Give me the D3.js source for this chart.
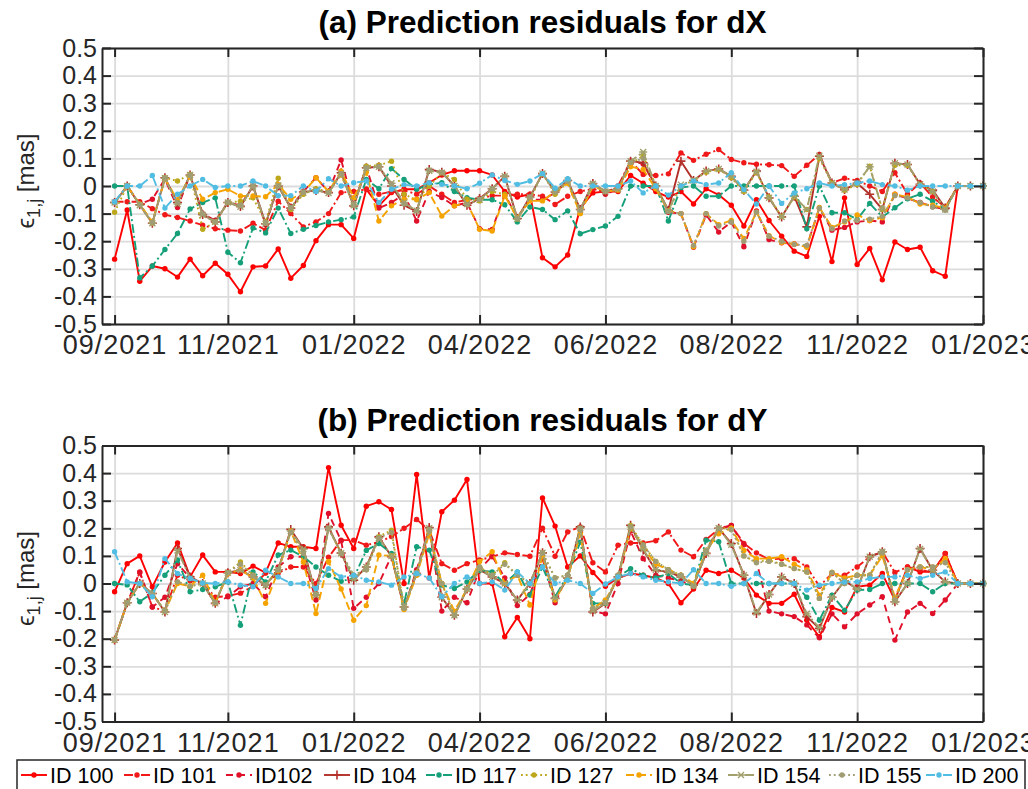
<!DOCTYPE html>
<html>
<head>
<meta charset="utf-8">
<script src="https://cdn.jsdelivr.net/npm/d3@7"></script>
<style>
  html, body { margin: 0; padding: 0; background: #fff; }
  svg { display: block; font-family: "Liberation Sans", Arial, Helvetica, sans-serif; }
</style>
</head>
<body>
<svg id="chart" width="1028" height="789"></svg>
<script>
// Weekly sample index (1..70) and date labels shown on the x axis
const sampleIndex = d3.range(1, 71);
const xTickIndex = [1, 10, 20, 30, 40, 50, 60, 70];
const xTickLabels = ["09/2021", "11/2021", "01/2022", "04/2022", "06/2022", "08/2022", "11/2022", "01/2023"];
const yTicks = [-0.5, -0.4, -0.3, -0.2, -0.1, 0, 0.1, 0.2, 0.3, 0.4, 0.5];

const seriesIds = ["ID 100", "ID 101", "ID102", "ID 104", "ID 117", "ID 127", "ID 134", "ID 154", "ID 155", "ID 200"];

// Residuals for dX [mas]
const dX_100 = [-0.265,-0.087,-0.345,-0.29,-0.30,-0.33,-0.265,-0.325,-0.28,-0.32,-0.383,-0.293,-0.29,-0.228,-0.334,-0.288,-0.198,-0.14,-0.14,-0.19,-0.012,-0.072,-0.024,-0.012,-0.012,0.012,0.04,0.055,0.055,0.055,0.04,-0.02,-0.04,-0.03,-0.26,-0.293,-0.25,-0.08,-0.025,-0.02,-0.02,0.038,0.01,-0.02,-0.04,-0.02,-0.065,-0.01,-0.032,-0.07,-0.145,-0.05,-0.125,-0.182,-0.236,-0.255,-0.11,-0.274,-0.043,-0.284,-0.226,-0.34,-0.203,-0.23,-0.222,-0.307,-0.327,0,0,0];
const dX_101 = [-0.057,-0.057,-0.057,-0.082,-0.104,-0.114,-0.127,-0.142,-0.155,-0.16,-0.163,-0.135,-0.16,-0.055,-0.1,-0.148,-0.13,-0.1,-0.024,-0.02,-0.012,-0.03,-0.02,-0.015,-0.03,0.0,-0.03,-0.06,-0.05,-0.045,-0.035,-0.035,-0.03,-0.03,-0.037,-0.067,-0.037,-0.02,-0.01,-0.025,0.0,0.09,0.042,0.038,0.044,0.12,0.093,0.115,0.132,0.096,0.084,0.079,0.077,0.074,0.035,0.075,0.114,0.011,0.028,0.02,0.0,-0.02,0.048,-0.03,0.011,-0.04,-0.077,0,0,0];
const dX_102 = [-0.06,0,-0.065,-0.048,0.025,-0.078,0.04,-0.1,-0.125,-0.06,-0.07,0.0,-0.14,0.0,-0.075,-0.02,0.03,-0.02,0.094,-0.07,0.07,-0.08,-0.06,-0.03,-0.127,-0.02,-0.042,-0.072,-0.06,-0.155,-0.157,-0.03,-0.115,-0.05,-0.05,-0.025,0.018,-0.09,0.005,-0.03,-0.01,0.09,0.08,0.0,-0.095,-0.1,-0.222,-0.105,-0.167,-0.13,-0.22,-0.09,-0.194,-0.206,-0.21,-0.218,-0.08,-0.16,-0.15,-0.13,-0.125,-0.13,-0.03,-0.045,-0.06,-0.075,-0.085,0,0,0];
const dX_104 = [-0.06,0,-0.068,-0.135,0.03,-0.06,0.04,-0.103,-0.13,-0.06,-0.074,0.0,-0.137,0.0,-0.08,-0.022,-0.016,-0.024,0.048,-0.072,0.066,0.07,0.0,-0.07,-0.092,0.06,0.05,0.0,-0.07,-0.045,-0.01,0.035,-0.118,-0.04,0.045,-0.022,0.02,-0.085,0.009,-0.02,-0.01,0.09,0.084,0.0,-0.088,0.09,0.02,0.054,0.062,0.035,-0.015,0.054,-0.043,-0.112,-0.037,-0.148,0.108,0.011,-0.013,0.01,-0.03,-0.085,0.082,0.078,0.006,-0.015,-0.08,0,0,0];
const dX_117 = [0,0,-0.333,-0.29,-0.23,-0.172,-0.083,-0.06,-0.043,-0.24,-0.278,-0.152,-0.17,-0.08,-0.172,-0.157,-0.143,-0.13,-0.122,-0.112,0.024,-0.01,0.063,0.024,-0.012,0.005,0.012,-0.02,-0.042,-0.05,-0.05,-0.068,-0.13,-0.076,-0.085,-0.122,-0.09,-0.173,-0.158,-0.145,-0.11,0,0,0,-0.127,-0.006,0,-0.037,-0.037,0,0,0,0,0,0,-0.155,0,-0.097,-0.097,-0.121,-0.063,-0.112,-0.079,-0.046,-0.03,-0.055,-0.085,0,0,0];
const dX_127 = [-0.095,0,-0.066,-0.135,0.03,0.018,0.042,-0.157,-0.13,-0.06,-0.055,-0.043,-0.13,0.028,-0.085,-0.03,-0.01,-0.02,0.04,-0.07,0.072,0.075,0.09,-0.03,-0.05,0.0,0.048,0.024,-0.048,-0.054,-0.02,-0.03,-0.12,-0.05,0.045,-0.03,0.015,-0.1,0.005,-0.02,-0.01,0.08,0.11,0.0,-0.09,0.0,0.02,0.05,0.06,0.03,-0.02,0.05,-0.04,-0.11,-0.04,-0.085,0.1,0.01,-0.015,0.005,0.072,-0.085,0.075,0.075,0.005,-0.02,-0.085,0,0,0];
const dX_134 = [-0.06,0,-0.066,-0.13,0.025,-0.05,0.035,-0.048,-0.024,-0.012,-0.036,-0.036,-0.039,0.006,-0.048,-0.024,0.03,-0.02,0.054,-0.042,0.05,-0.127,-0.072,-0.048,-0.048,-0.024,-0.109,-0.072,-0.06,-0.157,-0.163,-0.036,-0.115,-0.054,-0.054,-0.02,0.01,-0.1,0.0,-0.02,-0.015,0.07,0.06,-0.01,-0.09,-0.1,-0.22,-0.1,-0.14,-0.125,-0.19,-0.095,-0.18,-0.205,-0.21,-0.222,-0.078,-0.15,-0.13,-0.105,-0.125,-0.115,-0.03,-0.04,-0.065,-0.07,-0.08,0,0,0];
const dX_154 = [-0.06,0,-0.07,-0.135,0.028,-0.065,0.04,-0.105,-0.13,-0.06,-0.075,-0.002,-0.137,0.002,-0.08,-0.024,-0.015,-0.025,0.045,-0.07,0.065,0.07,0.01,-0.06,-0.09,0.055,0.048,0.0,-0.065,-0.05,-0.01,0.035,-0.12,-0.042,0.045,-0.02,0.02,-0.085,0.008,-0.02,-0.012,0.09,0.123,0.0,-0.088,0.005,0.02,0.054,0.062,0.035,-0.015,0.052,-0.043,-0.112,-0.037,-0.085,0.11,0.011,-0.013,0.01,0.07,-0.085,0.082,0.078,0.006,-0.02,-0.085,0,0,0];
const dX_155 = [-0.06,0,-0.068,-0.133,0.03,-0.06,0.04,-0.1,-0.13,-0.058,-0.07,0.0,-0.135,0.0,-0.078,-0.022,-0.016,-0.024,0.045,-0.07,0.065,0.07,0.005,-0.065,-0.09,0.058,0.05,0.0,-0.068,-0.048,-0.01,0.035,-0.118,-0.04,0.045,-0.022,0.018,-0.088,0.008,-0.02,-0.01,0.085,0.1,0.0,-0.092,-0.1,-0.215,-0.1,-0.145,-0.13,-0.2,-0.095,-0.182,-0.2,-0.212,-0.215,-0.08,-0.155,-0.127,-0.125,-0.12,-0.11,-0.035,-0.043,-0.06,-0.076,-0.088,0,0,0];
const dX_200 = [-0.057,0,0,0.038,-0.08,-0.03,0.0,0.024,-0.005,0,0,0.018,0,-0.035,-0.035,0,-0.02,0.026,0.0,0.012,0.018,-0.06,-0.012,0.005,0.0,0.012,0.006,0.0,-0.01,0.01,0.04,0.02,0.006,0.018,0.045,-0.008,0.026,0.0,0.0,0.0,0.0,0.018,-0.025,0.0,-0.033,0.0,0.018,0.005,0.011,0.048,-0.013,-0.065,0.0,-0.063,-0.025,-0.01,0.011,0.0,0.005,0.011,0.018,0.005,0.0,-0.015,0,0,0,0,0,0];

// Residuals for dY [mas]
const dY_100 = [-0.03,0.072,0.1,-0.012,0.078,0.147,0.024,0.103,0.042,0.042,0.036,0.063,0.039,0.147,0.133,0.133,0.127,0.42,0.211,0.127,0.28,0.296,0.268,0.0,0.395,0.02,0.26,0.302,0.377,0.0,0.0,-0.193,-0.123,-0.2,0.31,0.208,0.06,0.1,0.04,-0.01,0.02,0.036,0.03,0.02,0.0,-0.07,-0.02,0.048,0.036,0.048,0.02,-0.042,-0.072,-0.072,-0.039,-0.133,-0.193,-0.087,-0.103,-0.012,-0.006,0.036,-0.06,0.06,0.042,0.042,0.109,0,0,0];
const dY_101 = [-0.205,-0.07,0.04,-0.085,-0.1,0.03,0.01,0.0,-0.05,-0.045,-0.035,-0.01,0.038,0.038,0.06,0.06,0.0,0.095,0.157,0.157,0.139,0.15,0.17,0.2,0.232,0.193,0.072,0.048,0.072,0.085,0.097,0.111,0.105,0.099,0.2,0.099,0.187,0.205,0.075,0.042,0.139,0.147,0.147,0.155,0.187,0.121,0.097,0.16,0.196,0.21,0.145,0.111,0.087,0.09,0.09,0.06,-0.01,0.036,0.03,0.06,0.097,0.115,0.04,0.06,0.05,0.04,0.109,0,0,0];
const dY_102 = [-0.205,-0.07,0.042,-0.085,-0.05,0.072,0.02,0.0,-0.072,-0.048,-0.012,0.0,-0.048,0.06,0.097,0.097,-0.06,0.254,0.155,-0.09,-0.05,0.0,0.1,-0.09,0.05,0.2,-0.1,-0.05,-0.07,0.05,0.1,0.02,-0.08,-0.04,0.09,-0.07,0.03,0.2,-0.1,-0.11,0.0,0.19,0.09,0.03,0.02,0.01,-0.01,0.12,0.2,0.21,0.14,0.08,-0.1,-0.11,-0.12,-0.15,-0.197,-0.11,-0.157,-0.11,-0.078,-0.048,-0.205,-0.103,-0.072,-0.109,-0.06,0,0,0];
const dY_104 = [-0.205,-0.07,0.0,-0.036,-0.103,0.127,0.024,0.0,-0.072,0.039,0.048,0.024,-0.006,0.05,0.196,0.127,-0.042,0.205,0.11,0.012,0.06,0.169,0.097,-0.085,0.036,0.203,-0.05,-0.115,-0.02,0.05,0.024,0.0,-0.06,0.0,0.111,-0.054,0.02,0.205,-0.103,-0.072,0.024,0.211,0.121,0.048,0.042,0.024,-0.006,0.109,0.2,0.145,0.03,-0.109,-0.04,0.024,0.0,-0.12,-0.163,-0.05,0.01,-0.02,0.097,0.115,-0.066,0.0,0.127,0.048,0.006,0,0,0];
const dY_117 = [0,-0.005,-0.066,-0.034,0.03,0.085,-0.03,-0.022,-0.012,0.006,-0.151,0.042,0.006,0.103,0.121,0.097,0.06,0.03,0.008,0.02,0.12,0.145,0.109,-0.072,0.133,0.121,-0.006,-0.018,0.006,0.048,0.042,0.0,0.042,-0.042,0.06,-0.048,0.03,0.15,-0.072,-0.072,0.024,0.054,0.03,0.02,0.036,0.0,-0.006,0.157,0.151,0,0,0,0,0,0,-0.05,-0.133,-0.042,-0.097,-0.024,-0.022,0.0,0.0,0.0,0.0,-0.03,0.0,0,0,0];
const dY_127 = [-0.205,-0.07,0.0,-0.036,-0.1,0.006,-0.01,0.0,-0.07,0.039,0.078,0.03,-0.006,0.05,0.187,0.11,-0.04,0.2,0.11,0.03,0.05,0.17,0.193,-0.09,0.04,0.19,0.0,-0.115,-0.02,0.06,0.03,0.075,0.03,0.0,0.111,0.02,0.03,0.2,-0.09,-0.07,0.03,0.21,0.14,0.08,0.05,0.03,-0.01,0.12,0.2,0.2,0.1,0.078,0.085,0.07,0.054,0.042,-0.054,0.04,0.0,0.03,0.03,0.115,-0.06,0.05,0.06,0.06,0.078,0,0,0];
const dY_134 = [-0.205,-0.07,0.0,-0.036,-0.1,0.0,-0.01,0.03,-0.07,0.035,0.05,0.02,-0.072,0.045,0.19,0.078,-0.109,0.08,-0.02,-0.133,-0.08,0.103,0.1,-0.094,0.03,0.18,0.0,-0.1,-0.02,0.08,0.115,0.0,0.03,-0.078,0.1,-0.06,0.02,0.18,-0.09,-0.06,0.02,0.2,0.13,0.07,0.05,0.03,0.0,0.12,0.18,0.2,0.12,0.09,0.09,0.097,0.07,0.05,-0.042,0.04,0.02,0.03,0.03,0.1,-0.05,0.05,0.06,0.05,0.091,0,0,0];
const dY_154 = [-0.205,-0.07,0.0,-0.036,-0.103,0.12,0.02,0.0,-0.072,0.039,0.048,0.024,-0.006,0.05,0.19,0.125,-0.042,0.2,0.11,0.015,0.06,0.165,0.1,-0.085,0.036,0.2,-0.05,-0.115,-0.02,0.05,0.024,0.0,-0.06,0.0,0.111,-0.054,0.02,0.2,-0.1,-0.07,0.024,0.205,0.125,0.05,0.042,0.024,-0.006,0.109,0.2,0.14,0.03,-0.105,-0.04,0.024,0.0,-0.11,-0.16,-0.05,0.01,-0.02,0.097,0.115,-0.066,0.0,0.125,0.048,0.006,0,0,0];
const dY_155 = [-0.205,-0.07,0.0,-0.036,-0.1,0.006,-0.01,0.0,-0.07,0.039,0.07,0.03,-0.006,0.05,0.185,0.11,-0.04,0.2,0.11,0.03,0.05,0.165,0.185,-0.09,0.04,0.19,0.0,-0.115,-0.02,0.06,0.03,0.07,0.03,0.0,0.111,0.02,0.03,0.2,-0.09,-0.07,0.03,0.205,0.14,0.08,0.05,0.03,-0.01,0.12,0.2,0.195,0.1,0.075,0.08,0.07,0.054,0.042,-0.054,0.04,0.0,0.03,0.03,0.115,-0.06,0.05,0.06,0.06,0.075,0,0,0];
const dY_200 = [0.115,0.006,0.0,-0.048,0.09,0.036,0.018,0.002,0.0,0.006,-0.006,-0.012,0.048,0.024,0.0,0.0,-0.018,0.054,0.024,0.03,0.012,0.006,-0.006,0.024,0.036,0.02,-0.048,0.0,0.024,0.0,0.006,-0.024,0.042,0.0,0.06,0.0,0.012,0.0,-0.036,-0.002,0.024,0.036,0.024,0.012,0.006,0.0,0.05,0.0,0.0,-0.01,0.0,0.036,0.0,0.0,0.0,-0.024,-0.006,0.0,0.005,0.006,0.018,0.024,0.024,0.03,0.018,0.03,0.042,0,0,0];

const dXSeries = [dX_100, dX_101, dX_102, dX_104, dX_117, dX_127, dX_134, dX_154, dX_155, dX_200];
const dYSeries = [dY_100, dY_101, dY_102, dY_104, dY_117, dY_127, dY_134, dY_154, dY_155, dY_200];

// Line styles per station
const colors = ["#ff0000", "#f01818", "#e0102a", "#b3302a", "#16a07a", "#bda81c", "#f5a300", "#a2a06c", "#a09c74", "#52bde2"];
const dashes = [null, "9,3,2,3", "7,5", null, "9,3,2,3", "1.8,3", "8,4", "9,3,2,3", "1.8,3", "9,3,2,3"];
const markers = ["dot", "dot", "dot", "plus", "dot", "dot", "dot", "star", "dot", "dot"];

// Legend text anchors
const legendTextX = [50, 153, 255, 353, 455, 550, 655, 757, 858, 955];

const svg = d3.select("#chart");
const x = d3.scaleLinear().domain([0, 70]).range([102, 983]);

const panels = [
  { title: "(a) Prediction residuals for dX", data: dXSeries, top: 48, bottom: 324, titleY: 33 },
  { title: "(b) Prediction residuals for dY", data: dYSeries, top: 445.5, bottom: 721.5, titleY: 431 }
];

const fmtY = v => Math.abs(v) < 1e-9 ? "0" : v.toFixed(1);

function drawMarker(g, kind, cx, cy, color) {
  if (kind === "dot") {
    g.append("circle").attr("cx", cx).attr("cy", cy).attr("r", 2.7).attr("fill", color);
  } else if (kind === "plus") {
    g.append("path").attr("d", `M${cx-4.5},${cy}H${cx+4.5}M${cx},${cy-4.5}V${cy+4.5}`)
      .attr("stroke", color).attr("stroke-width", 1.6).attr("fill", "none");
  } else if (kind === "star") {
    g.append("path").attr("d", `M${cx-4},${cy}H${cx+4}M${cx-3},${cy-3}L${cx+3},${cy+3}M${cx-3},${cy+3}L${cx+3},${cy-3}`)
      .attr("stroke", color).attr("stroke-width", 1.4).attr("fill", "none");
  }
}

panels.forEach(p => {
  const y = d3.scaleLinear().domain([-0.5, 0.5]).range([p.bottom, p.top]);
  const g = svg.append("g");
  const x0 = x.range()[0], x1 = x.range()[1];

  // grid
  g.append("g").attr("transform", `translate(${x0},0)`)
    .call(d3.axisLeft(y).tickValues(yTicks).tickSize(-(x1 - x0)).tickFormat(""))
    .call(a => a.select(".domain").remove())
    .call(a => a.selectAll("line").attr("stroke", "#dcdcdc").attr("stroke-width", 1.8));
  g.append("g").attr("transform", `translate(0,${p.bottom})`)
    .call(d3.axisBottom(x).tickValues(xTickIndex).tickSize(-(p.bottom - p.top)).tickFormat(""))
    .call(a => a.select(".domain").remove())
    .call(a => a.selectAll("line").attr("stroke", "#dcdcdc").attr("stroke-width", 1.8));

  // series
  const clip = "clip" + Math.round(p.top);
  svg.append("clipPath").attr("id", clip).append("rect")
    .attr("x", x0).attr("y", p.top - 4).attr("width", x1 - x0 + 4).attr("height", p.bottom - p.top + 8);
  const plot = g.append("g").attr("clip-path", `url(#${clip})`);
  p.data.forEach((vals, k) => {
    const pts = sampleIndex.map((t, i) => [t, vals[i]]);
    const line = d3.line().x(d => x(d[0])).y(d => y(d[1]));
    const sg = plot.append("g");
    sg.append("path").attr("d", line(pts)).attr("fill", "none")
      .attr("stroke", colors[k]).attr("stroke-width", 1.9)
      .attr("stroke-linejoin", "round")
      .attr("stroke-dasharray", dashes[k]);
    pts.forEach(d => drawMarker(sg, markers[k], x(d[0]), y(d[1]), colors[k]));
  });

  // axes (ticks inward on all four sides)
  const axisColor = "#262626";
  const styleAxis = size => a => {
    a.selectAll("path.domain").attr("stroke", axisColor).attr("stroke-width", 2);
    a.selectAll("line").attr("stroke", axisColor).attr("stroke-width", 2);
    a.selectAll("text").attr("fill", "#262626").attr("font-size", size);
  };
  g.append("g").attr("transform", `translate(${x0},0)`)
    .call(d3.axisLeft(y).tickValues(yTicks).tickSizeInner(-9).tickSizeOuter(0).tickPadding(5).tickFormat(fmtY))
    .call(styleAxis(25));
  g.append("g").attr("transform", `translate(${x1},0)`)
    .call(d3.axisRight(y).tickValues(yTicks).tickSizeInner(-9).tickSizeOuter(0).tickFormat(""))
    .call(styleAxis(25));
  g.append("g").attr("transform", `translate(0,${p.bottom})`)
    .call(d3.axisBottom(x).tickValues(xTickIndex).tickSizeInner(-9).tickSizeOuter(0).tickPadding(11)
      .tickFormat((d, i) => xTickLabels[i]))
    .call(styleAxis(27))
    .call(a => a.selectAll("text").attr("letter-spacing", 1));
  g.append("g").attr("transform", `translate(0,${p.top})`)
    .call(d3.axisTop(x).tickValues(xTickIndex).tickSizeInner(-9).tickSizeOuter(0).tickFormat(""))
    .call(styleAxis(25));

  // title
  svg.append("text").attr("x", (x0 + x1) / 2).attr("y", p.titleY)
    .attr("text-anchor", "middle").attr("font-weight", "bold").attr("font-size", 31.5)
    .attr("fill", "#000").text(p.title);

  // y label
  const yl = svg.append("text")
    .attr("transform", `translate(34,${(p.top + p.bottom) / 2 - 5}) rotate(-90)`)
    .attr("text-anchor", "middle").attr("font-size", 24).attr("fill", "#262626");
  yl.append("tspan").text("ϵ");
  yl.append("tspan").attr("font-size", 18).attr("dy", 6).text("1,j");
  yl.append("tspan").attr("dy", -6).text(" [mas]");
});

// legend
const lg = svg.append("g");
lg.append("rect").attr("x", 17).attr("y", 760).attr("width", 1008).attr("height", 40)
  .attr("fill", "#fff").attr("stroke", "#262626").attr("stroke-width", 1.5);
seriesIds.forEach((id, k) => {
  const cy = 775;
  const tx = legendTextX[k];
  lg.append("line").attr("x1", tx - 29).attr("x2", tx - 3).attr("y1", cy).attr("y2", cy)
    .attr("stroke", colors[k]).attr("stroke-width", 1.9).attr("stroke-dasharray", dashes[k]);
  drawMarker(lg, markers[k], tx - 16, cy, colors[k]);
  lg.append("text").attr("x", tx).attr("y", cy + 8).attr("font-size", 21.5)
    .attr("fill", "#000").text(id);
});
</script>
</body>
</html>
